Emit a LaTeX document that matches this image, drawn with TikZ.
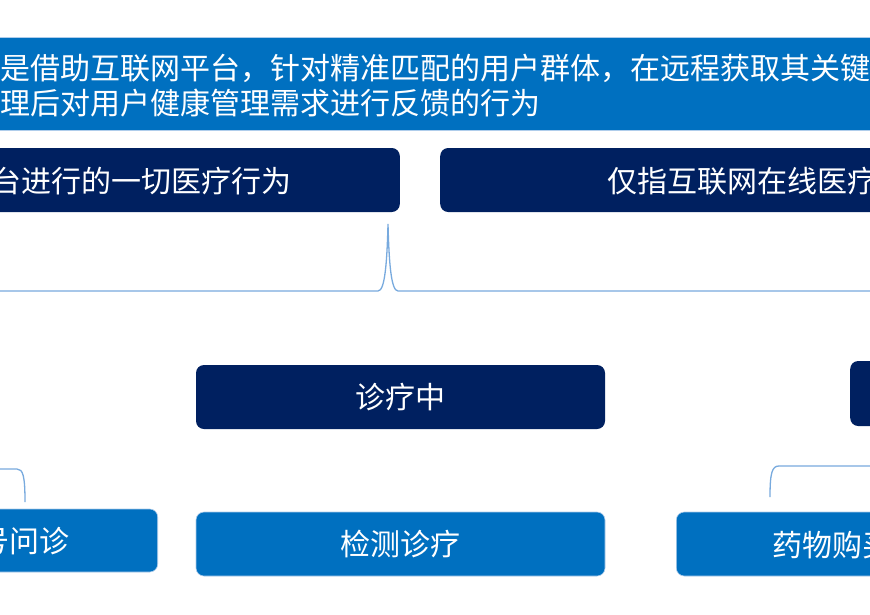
\documentclass[tikz,border=0pt]{standalone}
\usepackage{fontspec}
\setmainfont{Noto Sans CJK SC}
\usepackage{xcolor}
\usetikzlibrary{positioning}
\definecolor{defblue}{RGB}{0,112,192}
\definecolor{navy}{RGB}{0,32,96}
\definecolor{bracecol}{RGB}{120,170,222}
\definecolor{edgecol}{RGB}{175,205,235}

\begin{document}
\begin{tikzpicture}[
    x=1pt, y=-1pt,
    every node/.style={inner sep=0pt, text=white},
    lbl/.style={font=\fontsize{30pt}{30pt}\selectfont},
    navybox/.style={fill=navy, rounded corners=8pt, minimum height=64pt},
    bluebox/.style={fill=defblue, draw=edgecol, line width=0.6pt, rounded corners=8pt, minimum height=64pt},
    brace/.style={draw=bracecol, line width=1.3pt}
]
    \useasboundingbox (0,0) rectangle (870,614);
    \fill[white] (0,0) rectangle (870,614);

    % definition banner
    \node[fill=defblue, draw=edgecol, line width=0.6pt, minimum width=900pt, minimum height=93pt] (def) at (435,83.5) {};
    \node[lbl, anchor=west] (defA) at (0,68) {是借助互联网平台，针对精准匹配的用户群体，在远程获取其关键};
    \node[lbl, anchor=west] (defB) at (0,103) {理后对用户健康管理需求进行反馈的行为};

    % broad vs narrow
    \node[navybox, minimum width=700pt, anchor=east] (broad) at (400,180) {};
    \node[lbl, anchor=east] (broadtxt) at (292,181) {台进行的一切医疗行为};
    \node[navybox, minimum width=600pt, anchor=west] (narrow) at (440,180) {};
    \node[lbl, anchor=west] (narrowtxt) at (607,181) {仅指互联网在线医疗};

    % brace
    \coordinate (braceL) at (-5,291);
    \coordinate (braceTip) at (388,224);
    \coordinate (braceR) at (875,291);
    \draw[brace] (braceL) -- (378,291) .. controls (385,291) and (387,262) .. (braceTip)
        .. controls (389,262) and (391,291) .. (398,291) -- (braceR);

    % stages
    \node[navybox, lbl, minimum width=409pt] (during) at (400.5,397) {诊疗中};
    \node[navybox, minimum width=200pt, minimum height=65pt, anchor=west] (after) at (850,393.5) {};

    % services
    \node[bluebox, minimum width=400pt, minimum height=63pt, anchor=east] (consult) at (158,540.5) {};
    \node[lbl, anchor=east] (consulttxt) at (70,541) {号问诊};
    \node[bluebox, lbl, minimum width=409pt] (test) at (400.5,544) {检测诊疗};
    \node[bluebox, minimum width=400pt, anchor=west] (drug) at (676,544) {};
    \node[lbl, anchor=west] (drugtxt) at (772,545) {药物购买};

    % small brackets
    \coordinate (consultTop) at (25,502);
    \coordinate (drugTop) at (770,497);
    \draw[brace] (-5,469) -- (17,469) .. controls (23,469) and (25,476) .. (consultTop);
    \draw[brace] (drugTop) .. controls (770,473) and (772,466) .. (779,466) -- (875,466);
\end{tikzpicture}
\end{document}
